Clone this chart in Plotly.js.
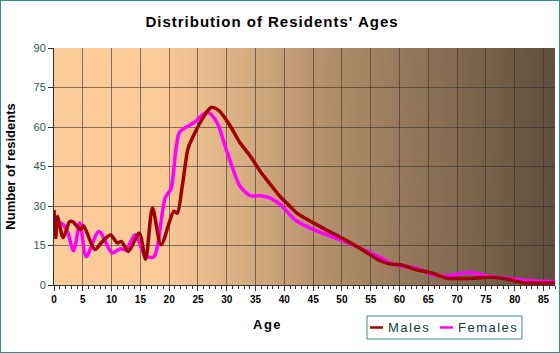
<!DOCTYPE html>
<html>
<head>
<meta charset="utf-8">
<script src="https://cdn.plot.ly/plotly-3.0.1.min.js"></script>
<style>
html,body{margin:0;padding:0;background:#fff;}
#wrap{position:relative;width:560px;height:353px;}
#chart{width:560px;height:353px;}
#frame{position:absolute;left:0;top:0;width:560px;height:353px;box-sizing:border-box;border:1px solid #2f8f8f;pointer-events:none;}
.gtitle{letter-spacing:1px;}
.annotation-text{letter-spacing:1.5px;}
</style>
</head>
<body>
<div id="wrap"><div id="chart"></div><div id="frame"></div></div>
<script>
// Data
const maleAges = [0,0.3,0.6,1.6,2.7,3.3,4.6,5.1,7.1,8.2,9.8,11,11.7,12.9,14.8,15.9,17.1,18.6,20.8,21.4,22.3,23.3,24.2,25.7,27.3,28.6,30.6,32.3,34.1,35.8,37.6,39.3,40.7,42.2,45.1,50,52.6,55,56.7,58.4,60.5,63.1,65.4,68.3,71.8,75.8,78.7,81.6,87];
const maleValues = [28.5,18,26,18,24,24,21,22.5,13.5,16,19,16,16.5,12.7,19.7,9.8,29.2,15.3,28,27.3,38,52,56.6,62.9,67.4,66.3,60.4,54,48.9,43.2,38.1,33.5,30.5,27.3,23.5,17.8,14.6,11.4,9.2,8,7.5,5.7,4.7,2.6,2.5,2.9,2.2,0.9,0.9];
const femaleAges = [0,1.1,2.2,3.4,4.5,5.6,7.8,10.1,11.5,12.5,14.1,15.8,17.3,19.3,20.3,21.2,21.8,23,24.5,26.6,28.3,29.7,30.9,32.3,34.1,35.8,37.6,39.3,40.7,42.2,45.1,50,52.6,55,56.7,58.4,60.2,63.1,65.4,68.3,71.8,75.8,79.9,83.4,87];
const femaleValues = [19,23.5,21,13,23.5,10.8,20.3,12.2,13.8,13.3,19.1,11.4,10.6,33,36.5,52,58,60,62,65.7,61.7,52.8,45.1,37.5,33.9,33.9,33,30.5,27.3,24.2,21,16.9,14.6,12.1,10.4,8.4,7.2,6.3,4.2,3.4,4.7,3.2,2.2,1.5,1.3];
const seriesNames = ['Males', 'Females'];
const seriesColors = ['#a00000', '#ff00ff'];
const xTickVals = [0,5,10,15,20,25,30,35,40,45,50,55,60,65,70,75,80,85];
const yTickVals = [0,15,30,45,60,75,90];

// plot-area pixel helpers for placing the legend (styling only)
const PL = 54, PW = 501, PB = 285, PH = 237;
const px = v => (v - PL) / PW;
const py = v => (PB - v) / PH;

// background gradient (styling only)
function gradientURL(){
  const c = document.createElement('canvas');
  c.width = 501; c.height = 10;
  const g = c.getContext('2d');
  const grd = g.createLinearGradient(0,0,501,0);
  grd.addColorStop(0,'rgb(252,204,154)');
  grd.addColorStop(0.22,'rgb(250,202,152)');
  grd.addColorStop(0.55,'rgb(178,142,106)');
  grd.addColorStop(1,'rgb(94,78,60)');
  g.fillStyle = grd; g.fillRect(0,0,501,10);
  return c.toDataURL('image/png');
}

const traces = [
  {x: femaleAges, y: femaleValues, name: seriesNames[1], type: 'scatter', mode: 'lines', showlegend: false,
   line: {color: seriesColors[1], width: 3.5, shape: 'spline', smoothing: 0.8}},
  {x: maleAges, y: maleValues, name: seriesNames[0], type: 'scatter', mode: 'lines', showlegend: false,
   line: {color: seriesColors[0], width: 3.5, shape: 'spline', smoothing: 0.8}}
];

const font = 'Liberation Sans, Arial, sans-serif';
const legendShapes = [
  {type: 'rect', xref: 'paper', yref: 'paper', x0: px(367), x1: px(522), y0: py(316), y1: py(339),
   line: {color: '#2f8f8f', width: 1}, fillcolor: 'rgba(0,0,0,0)'},
  {type: 'line', xref: 'paper', yref: 'paper', x0: px(370), x1: px(383), y0: py(327.5), y1: py(327.5),
   line: {color: seriesColors[0], width: 2.5}},
  {type: 'line', xref: 'paper', yref: 'paper', x0: px(440), x1: px(453), y0: py(327.5), y1: py(327.5),
   line: {color: seriesColors[1], width: 2.5}}
];

const layout = {
  width: 560, height: 353,
  margin: {l: 54, r: 5, t: 48, b: 68},
  paper_bgcolor: '#ffffff',
  plot_bgcolor: 'rgba(0,0,0,0)',
  showlegend: false,
  title: {text: "Distribution of Residents' Ages", x: 272/560, xref: 'container', xanchor: 'center', y: 1 - 22/353, yref: 'container', yanchor: 'middle',
          font: {family: font, size: 15, color: '#000', weight: 'bold'}},
  xaxis: {range: [0, 87], tickvals: xTickVals, ticktext: xTickVals.map(String),
          showgrid: true, gridcolor: 'rgba(50,50,50,0.6)', gridwidth: 1,
          zeroline: false, showline: true, linecolor: '#333', linewidth: 1,
          ticks: 'outside', ticklen: 5, tickcolor: '#333',
          minor: {dtick: 1, ticks: 'outside', ticklen: 3, tickcolor: '#333', showgrid: false},
          tickfont: {family: font, size: 10, color: '#000', weight: 'bold'}, fixedrange: true},
  yaxis: {range: [0, 90], tickvals: yTickVals,
          showgrid: true, gridcolor: 'rgba(50,50,50,0.6)', gridwidth: 1,
          zeroline: false, showline: true, linecolor: '#333', linewidth: 1,
          ticks: 'outside', ticklen: 5, tickcolor: '#333',
          tickfont: {family: font, size: 11, color: '#2b5b4b'},
          title: {text: 'Number of residents', standoff: 14,
                  font: {family: font, size: 13, color: '#000', weight: 'bold'}}, fixedrange: true},
  shapes: legendShapes,
  annotations: [
    {text: 'Age', xref: 'paper', yref: 'paper', x: px(267), y: py(324), xanchor: 'center', yanchor: 'middle', showarrow: false,
     font: {family: font, size: 13, color: '#000', weight: 'bold'}},
    {text: seriesNames[0], xref: 'paper', yref: 'paper', x: px(386), y: py(327.5), xanchor: 'left', yanchor: 'middle', showarrow: false,
     font: {family: font, size: 13, color: '#0b3b3b'}},
    {text: seriesNames[1], xref: 'paper', yref: 'paper', x: px(456), y: py(327.5), xanchor: 'left', yanchor: 'middle', showarrow: false,
     font: {family: font, size: 13, color: '#0b3b3b'}}
  ],
  images: [{source: gradientURL(), xref: 'paper', yref: 'paper', x: 0, y: 1, sizex: 1, sizey: 1,
            sizing: 'stretch', xanchor: 'left', yanchor: 'top', layer: 'below'}]
};

Plotly.newPlot('chart', traces, layout, {displayModeBar: false, staticPlot: true});
</script>
</body>
</html>
